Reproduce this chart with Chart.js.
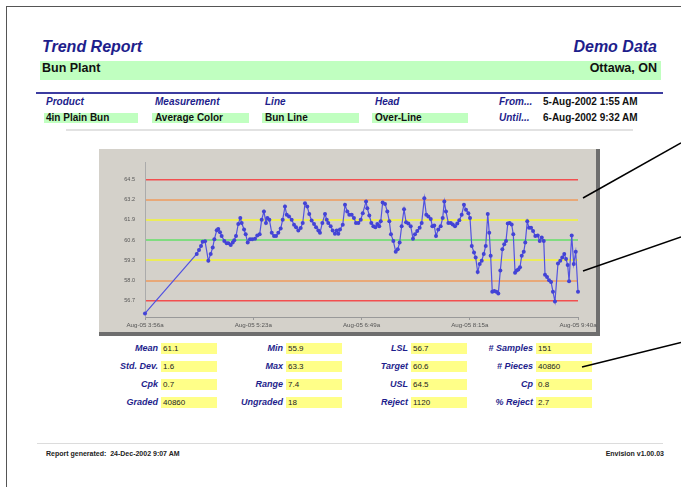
<!DOCTYPE html>
<html>
<head>
<meta charset="utf-8">
<title>Trend Report</title>
<script src="https://cdn.jsdelivr.net/npm/chart.js@4.4.0/dist/chart.umd.min.js"></script>
<style>
  html, body { margin: 0; padding: 0; background: #fff; }
  body { width: 681px; height: 487px; position: relative; overflow: hidden;
         font-family: Arial, "Liberation Sans", sans-serif; }
  .abs { position: absolute; white-space: nowrap; }
  .navy { color: #1e1e8c; font-weight: bold; font-style: italic; }
  .big { font-size: 16px; line-height: 16px; }
  .band { font-size: 12.5px; line-height: 12.5px; font-weight: bold; color: #111; }
  .lbl { font-size: 10px; line-height: 10px; }
  .val { font-size: 10px; line-height: 10px; font-weight: bold; color: #111; }
  .green { background: #c0ffc0; }
  .yellow { background: #ffff88; }
  .slbl { font-size: 9px; line-height: 9px; text-align: right; }
  .sval { font-size: 8px; line-height: 8px; color: #222; }
  .foot { font-size: 7px; line-height: 7px; font-weight: bold; color: #222; }
  #panel { position: absolute; left: 99px; top: 149px; width: 497px; height: 183px;
           background: #d4d1ca; border-right: 4px solid #6e6e6e; border-bottom: 4px solid #6e6e6e; }
  #trend { position: absolute; left: 99px; top: 149px; }
</style>
</head>
<body>

<!-- page frame -->
<div class="abs" style="left:6px;top:6px;width:675px;height:1px;background:#555"></div>
<div class="abs" style="left:6px;top:6px;width:1px;height:481px;background:#555"></div>

<!-- header -->
<div class="abs navy big" style="left:42px;top:39px">Trend Report</div>
<div class="abs navy big" style="right:24px;top:39px">Demo Data</div>
<div class="abs green" style="left:40px;top:61px;width:621px;height:19px"></div>
<div class="abs band" style="left:42px;top:62px">Bun Plant</div>
<div class="abs band" style="right:24px;top:62px">Ottawa, ON</div>
<div class="abs" style="left:36px;top:92px;width:627px;height:2px;background:#3c3ca0"></div>

<div class="abs navy lbl" style="left:46px;top:97px">Product</div>
<div class="abs navy lbl" style="left:155px;top:97px">Measurement</div>
<div class="abs navy lbl" style="left:265px;top:97px">Line</div>
<div class="abs navy lbl" style="left:375px;top:97px">Head</div>
<div class="abs navy lbl" style="left:499px;top:97px">From...</div>
<div class="abs val" style="left:543px;top:97px">5-Aug-2002 1:55 AM</div>

<div class="abs green" style="left:44px;top:113px;width:94px;height:10px"></div>
<div class="abs green" style="left:152px;top:113px;width:97px;height:10px"></div>
<div class="abs green" style="left:262px;top:113px;width:97px;height:10px"></div>
<div class="abs green" style="left:372px;top:113px;width:96px;height:10px"></div>
<div class="abs val" style="left:46px;top:113px">4in Plain Bun</div>
<div class="abs val" style="left:155px;top:113px">Average Color</div>
<div class="abs val" style="left:265px;top:113px">Bun Line</div>
<div class="abs val" style="left:375px;top:113px">Over-Line</div>
<div class="abs navy lbl" style="left:499px;top:113px">Until...</div>
<div class="abs val" style="left:543px;top:113px">6-Aug-2002 9:32 AM</div>
<div class="abs" style="left:66px;top:129px;width:567px;height:2px;background:#e2e2e2"></div>

<!-- chart -->
<div id="panel"></div>
<canvas id="trend" width="510" height="183"></canvas>

<!-- stats -->
<div id="stats"></div>

<!-- footer -->
<div class="abs" style="left:37px;top:443px;width:626px;height:1px;background:#dcdcdc"></div>
<div class="abs foot" style="left:46px;top:450px">Report generated:&nbsp; 24-Dec-2002 9:07 AM</div>
<div class="abs foot" style="right:17px;top:450px">Envision v1.00.03</div>

<svg class="abs" width="681" height="487" style="left:0;top:0;pointer-events:none">
  <line x1="583" y1="198" x2="681" y2="143" stroke="#000" stroke-width="1.5"/>
  <line x1="583" y1="271" x2="681" y2="237" stroke="#000" stroke-width="1.5"/>
  <line x1="582" y1="367" x2="681" y2="342.5" stroke="#000" stroke-width="1.5"/>
</svg>

<script>
// sample times, minutes after Aug-05 3:56a
const sampleMinutes = [
  0,
  41.1, 42.9, 44.5, 45.8, 47.7, 50.3, 52.2, 53.8, 55.1, 57.0,
  58.2, 59.6, 60.9, 63.0, 64.9, 66.2, 68.1, 69.7, 70.9, 72.3,
  74.1, 75.7, 76.8, 78.7, 80.0, 81.6, 83.4, 85.2, 87.4, 89.2,
  91.1, 92.7,
  94.5, 96.1, 97.2, 98.8, 100.7, 102.5, 104.1, 105.9, 107.8, 109.4,
  111.2, 112.6, 114.4, 116.5, 118.4, 120.0, 121.8, 123.7, 125.3, 127.1,
  128.9, 130.5, 132.4, 134.3, 135.9, 137.7, 139.0, 140.9, 143.0, 144.4,
  145.6, 147.5, 149.1, 150.9, 152.3, 153.6, 154.9, 157.1, 158.9, 160.7,
  162.3, 164.2, 166.0, 167.6, 169.5, 171.4, 173.0, 175.6, 176.6, 178.2,
  179.8, 181.4, 183.0, 184.6, 186.1,
  187.3, 188.8, 190.7, 192.5, 194.1, 195.4, 197.3, 199.2, 200.8, 202.3,
  203.9, 205.8, 207.4, 209.2, 211.1, 212.9, 214.5, 216.3, 218.2, 219.8,
  221.9, 223.5, 225.1, 227.0, 228.3, 229.8, 231.2, 233.0, 234.9, 236.5,
  237.8, 239.1, 241.0, 242.9, 244.5, 246.3, 248.1, 249.7, 251.6, 253.4,
  255.0, 256.9, 258.2, 259.6, 261.4, 262.7, 264.3, 265.9, 267.5, 269.1,
  270.7, 272.3, 273.5, 274.6, 275.9, 277.5, 279.1, 280.7, 282.3, 283.9,
  285.4, 286.8, 288.2, 289.7, 291.3, 292.6, 294.0, 295.3, 296.6, 297.9,
  299.3, 300.9, 302.1, 303.7, 305.1, 306.7, 308.3, 310.1, 312.0, 313.6,
  315.2, 316.8, 317.8, 319.4, 321.0, 322.6, 324.1, 325.7, 328.1, 329.9,
  331.5, 333.1, 334.5, 335.8, 336.9, 339.0, 340.6, 342.2, 344.0
];

// average color readings
const colorValues = [
  55.9,
  59.71, 59.96, 60.23, 60.50, 60.53, 59.28, 59.71, 60.13, 60.65, 61.24,
  61.32, 61.11, 60.86, 60.55, 60.40, 60.40, 60.29, 60.44, 60.59, 60.86,
  61.64, 62.02, 61.70, 61.28, 60.97, 60.44, 60.65, 60.65, 60.69, 60.90,
  60.97, 61.91,
  62.44, 61.70, 62.02, 61.91, 61.07, 60.86, 60.86, 61.07, 61.34, 61.91,
  62.75, 62.23, 62.12, 61.91, 61.59, 61.43, 61.22, 61.38, 61.70, 62.96,
  62.75, 62.27, 61.85, 61.64, 61.43, 61.22, 61.07, 61.70, 62.27, 61.91,
  61.70, 61.49, 61.22, 61.01, 61.22, 61.01, 61.28, 61.59, 62.86, 62.44,
  62.23, 62.23, 62.02, 61.70, 61.70, 61.91, 62.33, 63.07, 62.65, 62.18,
  61.70, 61.49, 61.43, 61.64, 61.49,
  61.81, 63.01, 62.92, 62.44, 61.81, 60.97, 60.55, 59.85, 60.02, 60.44,
  61.49, 62.58, 61.75, 61.66, 61.49, 60.69, 60.97, 61.18, 61.39, 61.70,
  63.28, 62.23, 62.12, 61.96, 61.49, 61.53, 60.86, 61.28, 61.49, 62.02,
  63.07, 62.44, 61.70, 61.70, 61.60, 61.49, 61.66, 61.87, 62.23, 62.86,
  62.54, 62.33, 62.02, 60.23, 59.81, 59.49, 58.55, 59.07, 59.28, 59.71,
  60.23, 62.27, 61.07, 59.60, 57.29, 57.33, 57.29, 57.18, 58.65, 60.02,
  60.34, 60.55, 61.66, 61.70, 61.60, 60.97, 58.51, 58.65, 58.72, 58.86,
  59.60, 59.85, 60.44, 61.81, 61.39, 61.39, 61.18, 60.86, 60.90, 60.55,
  60.76, 60.55, 58.38, 58.23, 58.02, 57.92, 57.29, 56.66, 59.10, 59.28,
  59.49, 59.71, 59.39, 59.01, 57.96, 60.90, 59.07, 59.85, 57.29
];

const xTickMinutes = [0, 86, 172, 258, 344];
const xTickLabels = ['Aug-05 3:56a', 'Aug-05 5:23a', 'Aug-05 6:49a', 'Aug-05 8:15a', 'Aug-05 9:40a'];
const yTickValues = [56.7, 58.0, 59.3, 60.6, 61.9, 63.2, 64.5];

const statLabels = [
  ['Mean', 'Std. Dev.', 'Cpk', 'Graded'],
  ['Min', 'Max', 'Range', 'Ungraded'],
  ['LSL', 'Target', 'USL', 'Reject'],
  ['# Samples', '# Pieces', 'Cp', '% Reject']
];
const statValues = [
  ['61.1', '1.6', '0.7', '40860'],
  ['55.9', '63.3', '7.4', '18'],
  ['56.7', '60.6', '64.5', '1120'],
  ['151', '40860', '0.8', '2.7']
];

// limit line colours, LSL up to USL
const limitColors = ['#f24f4f', '#e8a878', '#ecec58', '#80dc80', '#ecec58', '#e8a878', '#f24f4f'];
const limitWidths = [1.5, 2, 2, 2, 2, 2, 1.5];

const buildStats = () => {
    const box = document.getElementById('stats');
    statLabels.forEach((col, ci) => {
        col.forEach((label, ri) => {
            const cy = 348.5 + ri * 18;
            const right = 158 + ci * 125;
            const l = document.createElement('div');
            l.className = 'abs navy slbl';
            l.style.right = (681 - right) + 'px';
            l.style.top = (cy - 4.4) + 'px';
            l.textContent = label;
            box.appendChild(l);

            const y = document.createElement('div');
            y.className = 'abs yellow';
            y.style.left = (right + 3) + 'px';
            y.style.top = (cy - 5.5) + 'px';
            y.style.width = '56px';
            y.style.height = '11px';
            box.appendChild(y);

            const v = document.createElement('div');
            v.className = 'abs sval';
            v.style.left = (right + 5) + 'px';
            v.style.top = (cy - 3.9) + 'px';
            v.textContent = statValues[ci][ri];
            box.appendChild(v);
        });
    });
};

const createTrend = () => {
    const ctx = document.getElementById('trend').getContext('2d');
    return new Chart(ctx, {
        type: 'line',
        data: {
            datasets: [{
                data: sampleMinutes.map((t, i) => ({ x: t, y: colorValues[i] })),
                borderColor: '#5252e0',
                backgroundColor: '#4343d6',
                borderWidth: 1.2,
                pointRadius: 2,
                pointBorderWidth: 0,
                tension: 0,
                clip: 4
            }]
        },
        options: {
            responsive: false,
            animation: false,
            layout: { padding: { left: 0, right: 31, top: 11, bottom: 0 } },
            plugins: { legend: { display: false }, tooltip: { enabled: false } },
            scales: {
                x: {
                    type: 'linear',
                    min: 0,
                    max: 344,
                    afterBuildTicks: s => { s.ticks = xTickMinutes.map(v => ({ value: v })); },
                    afterFit: s => { s.height = 15; },
                    ticks: {
                        callback: (v, i) => xTickLabels[i],
                        font: { size: 6.2, family: 'Arial, "Liberation Sans"' },
                        color: '#555',
                        maxRotation: 0,
                        autoSkip: false,
                        padding: 2
                    },
                    grid: { drawOnChartArea: false, tickLength: 3, color: '#999' },
                    border: { color: '#999' }
                },
                y: {
                    min: 55.67,
                    max: 65.59,
                    afterBuildTicks: s => { s.ticks = yTickValues.map(v => ({ value: v })); },
                    afterFit: s => { s.width = 46; },
                    ticks: {
                        callback: v => v.toFixed(1),
                        font: { size: 5.5, family: 'Arial, "Liberation Sans"' },
                        color: '#555',
                        padding: 10
                    },
                    grid: {
                        color: c => limitColors[c.index] || 'rgba(0,0,0,0)',
                        lineWidth: c => limitWidths[c.index] || 0,
                        drawTicks: false
                    },
                    border: { color: '#ababab' }
                }
            }
        }
    });
};

window.addEventListener('DOMContentLoaded', () => {
    buildStats();
    createTrend();
});
</script>
</body>
</html>
